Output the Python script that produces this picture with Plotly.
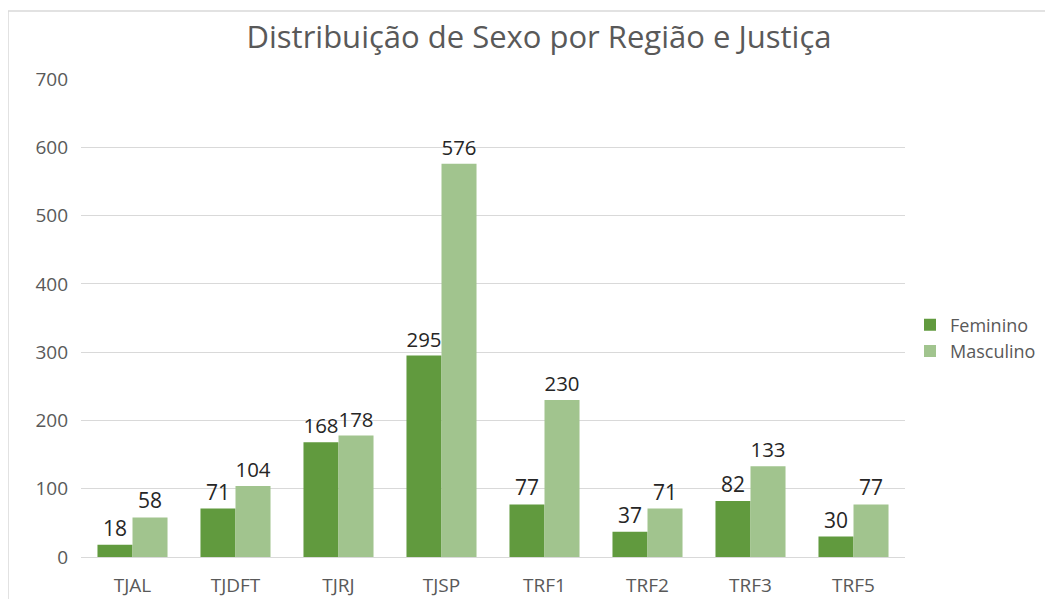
import plotly.graph_objects as go

categories = ["TJAL", "TJDFT", "TJRJ", "TJSP", "TRF1", "TRF2", "TRF3", "TRF5"]
feminino = [18, 71, 168, 295, 77, 37, 82, 30]
masculino = [58, 104, 178, 576, 230, 71, 133, 77]

FONT = "Open Sans"
W, H = 1045, 591          # page body has an 8px margin
L, T = 73, 71             # plot-area origin inside the figure
PW, PH = 824, 478         # plot-area size

fig = go.Figure()
fig.add_trace(go.Bar(
    x=categories, y=feminino, name="Feminino",
    marker=dict(color="#619a3e", line=dict(width=0)),
    text=feminino, textposition="outside",
    textfont=dict(size=21, color="#262626", family=FONT),
    cliponaxis=False,
))
fig.add_trace(go.Bar(
    x=categories, y=masculino, name="Masculino",
    marker=dict(color="#a1c48e", line=dict(width=0)),
    text=masculino, textposition="outside",
    textfont=dict(size=21, color="#262626", family=FONT),
    cliponaxis=False,
))

fig.update_layout(
    width=W, height=H,
    margin=dict(l=L, r=W - L - PW, t=T, b=H - T - PH, autoexpand=False),
    paper_bgcolor="white", plot_bgcolor="white",
    barmode="group", bargap=0.32, bargroupgap=0,
    font=dict(family=FONT, color="#595959"),
    title=dict(text="Distribuição de Sexo por Região e Justiça",
               x=531 / W, xanchor="center", y=1 - 29 / H, yanchor="middle",
               font=dict(size=31, color="#595959", family=FONT)),
    xaxis=dict(showgrid=False, showline=False, ticks="", tickfont=dict(size=19, color="#595959"),
               ticklabelstandoff=15),
    yaxis=dict(range=[0, 700], dtick=100, showgrid=True, gridcolor="#d9d9d9", gridwidth=1,
               zeroline=True, zerolinecolor="#d9d9d9", zerolinewidth=1,
               showline=False, ticks="", tickfont=dict(size=19, color="#595959"),
               ticklabelstandoff=12),
    legend=dict(x=(910 - 8 - L) / PW, y=(549 - 330) / PH, xanchor="left", yanchor="middle",
                font=dict(size=18, color="#595959"), bgcolor="rgba(0,0,0,0)",
                itemwidth=30, tracegroupgap=2),
    showlegend=True,
    shapes=[dict(type="rect", xref="paper", yref="paper",
                 x0=(0 - L) / PW, x1=(1070 - L) / PW,
                 y0=(T + PH - 620) / PH, y1=(T + PH - 3) / PH,
                 line=dict(color="#d9d9d9", width=1.5), fillcolor="rgba(0,0,0,0)", layer="below")],
)

fig.write_html("out.html")
